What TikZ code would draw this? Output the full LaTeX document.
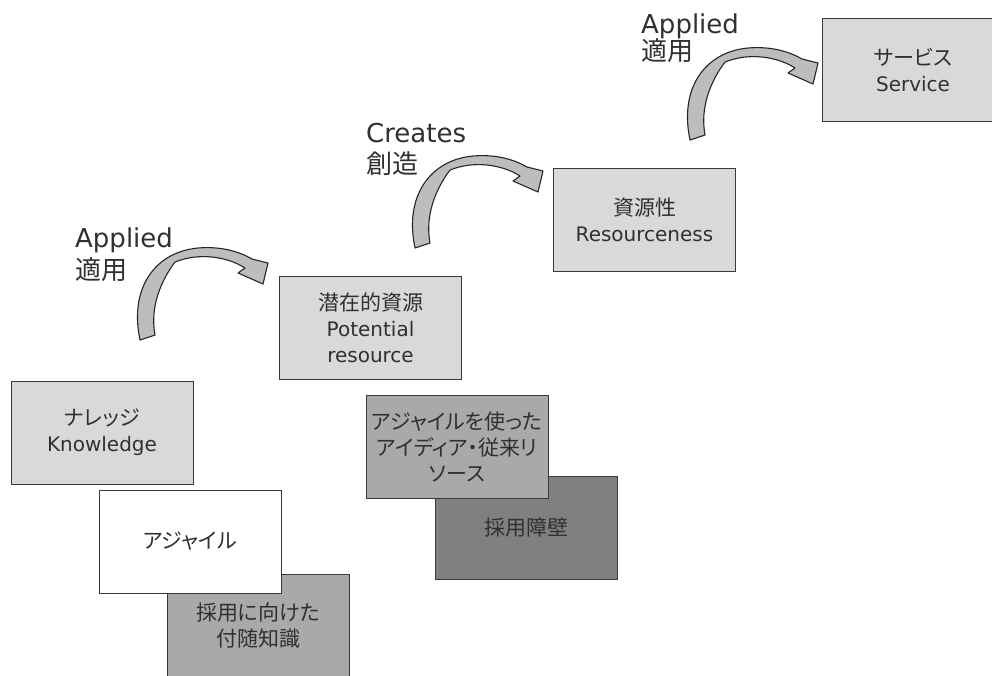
\documentclass[tikz,border=0pt]{standalone}
\usepackage{fontspec}
\setmainfont{DejaVu Sans}
\newfontfamily\cjk[RawFeature=+palt]{Noto Sans CJK JP}
\newfontfamily\cjkl{Noto Sans CJK JP}
\newcommand\jp[1]{{\cjk\fontsize{21}{26}\selectfont #1}}
\definecolor{boxline}{HTML}{3A3A3A}
\definecolor{txt}{HTML}{303030}
\definecolor{lightfill}{HTML}{D9D9D9}
\definecolor{midfill}{HTML}{A9A9A9}
\definecolor{darkfill}{HTML}{808080}
\definecolor{arrowfill}{HTML}{BDBDBD}
\tikzset{
  box/.style={draw=boxline, line width=1pt, minimum width=182pt, minimum height=103pt,
    inner sep=0pt, align=center, text=txt, font=\fontsize{20}{26}\selectfont},
  lightbox/.style={box, fill=lightfill},
  midbox/.style={box, fill=midfill},
  darkbox/.style={box, fill=darkfill},
  whitebox/.style={box, fill=white},
  lbl/.style={anchor=base west, inner sep=0pt, text=txt},
  lbllatin/.style={lbl, font=\fontsize{26}{30}\selectfont},
  lbljp/.style={lbl, font=\cjkl\fontsize{26}{30}\selectfont},
  blockarrow/.style={fill=arrowfill, draw=black!85, line width=1.1pt, line join=round}
}
\newcommand\curvedarrow{%
  (140,340) .. controls (129,288) and (155,252) .. (198,248)
  .. controls (222,246) and (240,252) .. (252,259)
  -- (268,263) -- (263,284) -- (238,273) -- (245,268)
  .. controls (228,257) and (200,252) .. (175,262)
  .. controls (160,282) and (150,308) .. (155,335) -- cycle}
\begin{document}
\begin{tikzpicture}[x=1pt, y=-1pt]
\useasboundingbox (0,0) rectangle (992,675);
\clip (0,0) rectangle (992,675);

% boxes
\node[lightbox] (service) at (913,70) {\jp{サービス}\\Service};
\node[lightbox] (resource) at (644.5,220) {\jp{資源性}\\Resourceness};
\node[lightbox] (potential) at (370.5,328) {\jp{潜在的資源}\\Potential\\resource};
\node[lightbox] (knowledge) at (102,432.5) {\jp{ナレッジ}\\Knowledge};

\node[darkbox] (barrier) at (526,528) {\jp{採用障壁}};
\node[midbox] (ideas) at (457,446.5) {\jp{アジャイルを使った}\\\jp{アイディア・従来リ}\\\jp{ソース}};

\node[midbox] (tacit) at (258,625.5) {\jp{採用に向けた}\\\jp{付随知識}};
\node[whitebox] (agile) at (190,541.5) {\jp{アジャイル}};

% curved block arrows
\draw[blockarrow] \curvedarrow;
\begin{scope}[shift={(275,-92)}]
  \draw[blockarrow] \curvedarrow;
\end{scope}
\begin{scope}[shift={(550,-200)}]
  \draw[blockarrow] \curvedarrow;
\end{scope}

% labels
\node[lbllatin] (applied1) at (75,247) {Applied};
\node[lbljp] (apply1) at (75,279) {適用};
\node[lbllatin] (creates) at (366,142) {Creates};
\node[lbljp] (create) at (366,173) {創造};
\node[lbllatin] (applied2) at (641,33) {Applied};
\node[lbljp] (apply2) at (641,60) {適用};
\end{tikzpicture}
\end{document}
